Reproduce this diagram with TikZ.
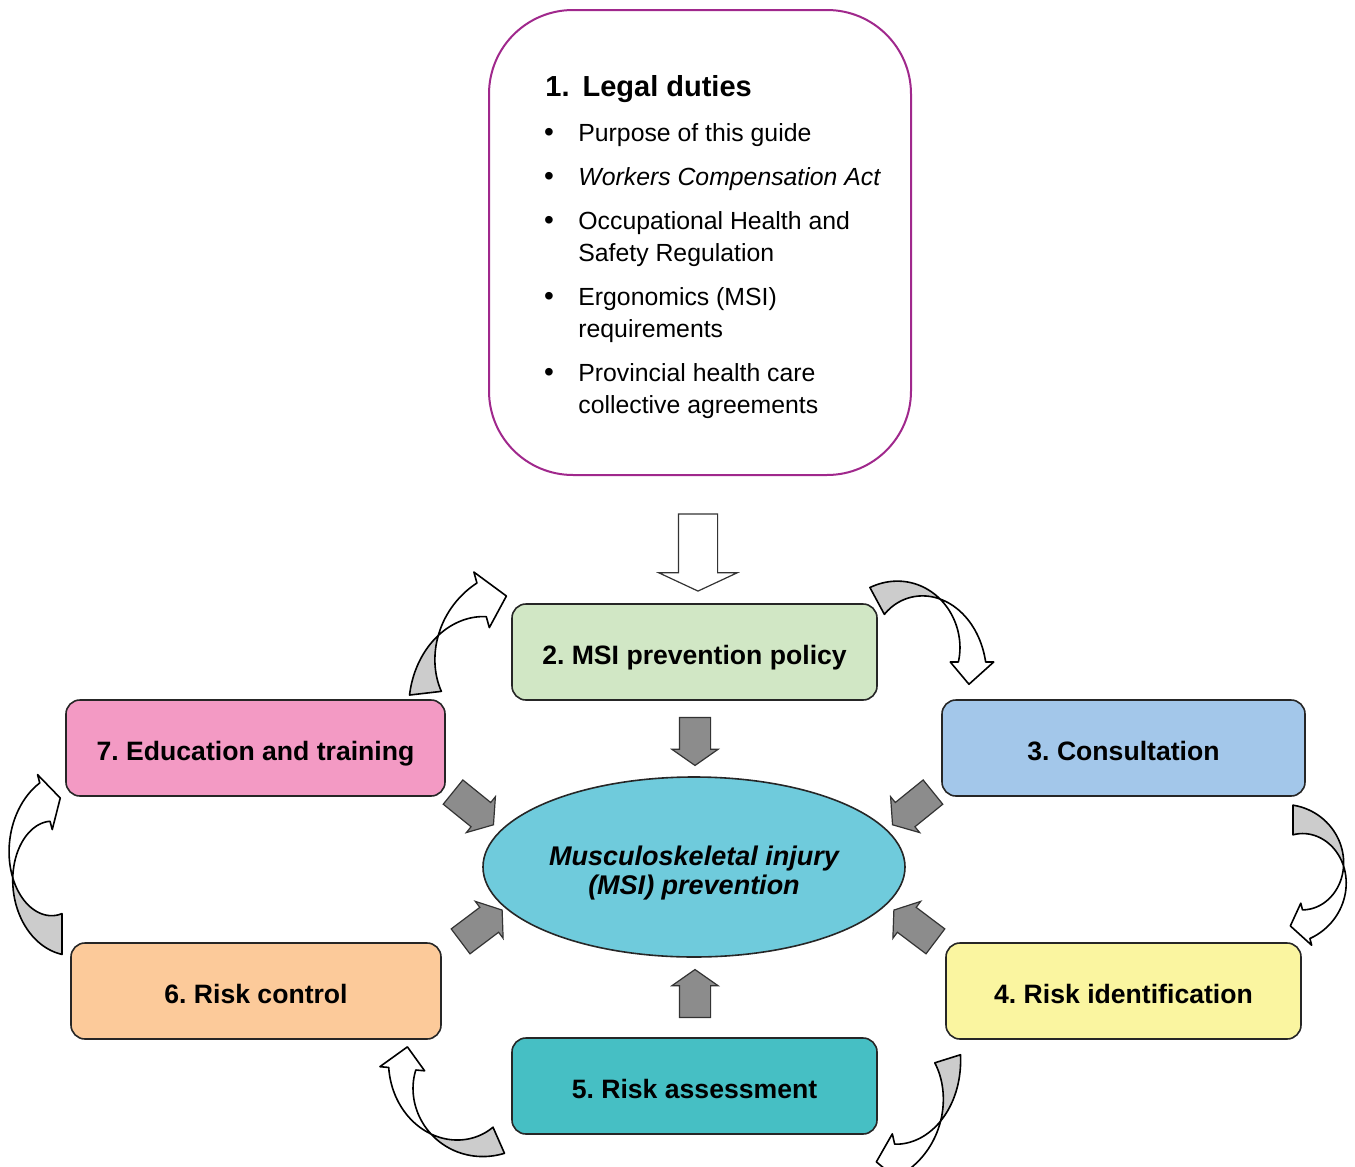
\documentclass[tikz,border=0pt]{standalone}
\usepackage{fontspec}
\setmainfont{Liberation Sans}
\usepackage{tikz}
\usetikzlibrary{shapes.geometric, shapes.arrows}
\frenchspacing

\definecolor{dutyborder}{HTML}{A0288C}
\definecolor{policygreen}{HTML}{D1E7C5}
\definecolor{consultblue}{HTML}{A3C7EA}
\definecolor{identyellow}{HTML}{FAF5A0}
\definecolor{assessteal}{HTML}{46BFC4}
\definecolor{controlpeach}{HTML}{FCCA9A}
\definecolor{trainpink}{HTML}{F39AC4}
\definecolor{centrecyan}{HTML}{6FCBDC}
\definecolor{feedgray}{HTML}{8C8C8C}
\definecolor{backgray}{HTML}{CCCCCC}

% twisted ribbon arrow round an ellipse:
% #1,#2 centre, #3,#4 radii, #5 start angle, #6 end angle, #7 half width
\newcommand{\twistarrow}[7]{%
  \pgfmathsetmacro\twmid{(#5+#6)/2}
  \pgfmathsetmacro\twtip{#6+18}
  % back side (tail), narrowing to the twist
  \filldraw[twistback]
    plot[domain=#5:\twmid, variable=\ang, samples=25]
      ({#1+#3*(1+#7*(1-2*(\ang-(#5))/(#6-(#5))))*cos(\ang)},
       {#2+#4*(1+#7*(1-2*(\ang-(#5))/(#6-(#5))))*sin(\ang)})
    -- plot[domain=\twmid:#5, variable=\ang, samples=25]
      ({#1+#3*(1-#7*(1-2*(\ang-(#5))/(#6-(#5))))*cos(\ang)},
       {#2+#4*(1-#7*(1-2*(\ang-(#5))/(#6-(#5))))*sin(\ang)})
    -- cycle;
  % front side with the head
  \filldraw[twistfront]
    plot[domain=\twmid:#6, variable=\ang, samples=25]
      ({#1+#3*(1+#7*(1-2*(\ang-(#5))/(#6-(#5))))*cos(\ang)},
       {#2+#4*(1+#7*(1-2*(\ang-(#5))/(#6-(#5))))*sin(\ang)})
    -- ({#1+#3*(1-#7-0.13)*cos(#6)},{#2+#4*(1-#7-0.13)*sin(#6)})
    -- ({#1+#3*cos(\twtip)},{#2+#4*sin(\twtip)})
    -- ({#1+#3*(1+#7+0.13)*cos(#6)},{#2+#4*(1+#7+0.13)*sin(#6)})
    -- plot[domain=#6:\twmid, variable=\ang, samples=25]
      ({#1+#3*(1-#7*(1-2*(\ang-(#5))/(#6-(#5))))*cos(\ang)},
       {#2+#4*(1-#7*(1-2*(\ang-(#5))/(#6-(#5))))*sin(\ang)})
    -- cycle;
}

\begin{document}
\begin{tikzpicture}[
    x=0.5pt, y=-0.5pt,
    stage/.style={rectangle, rounded corners=7pt, draw=black!85, line width=0.8pt,
      minimum height=48pt, inner sep=0pt, text height=12pt, text depth=0pt,
      font=\fontsize{13.3}{16}\selectfont\bfseries}, % the seven step boxes
    item/.style={anchor=base west, inner sep=0pt, font=\fontsize{12.4}{16}\selectfont},
    dot/.style={anchor=base, inner sep=0pt, font=\fontsize{14}{16}\selectfont},
    feed/.style={single arrow, draw=black!80, fill=feedgray, line width=0.6pt,
      inner xsep=0pt, inner ysep=7.5pt, single arrow head extend=3.75pt,
      single arrow tip angle=110}, % grey arrows into the centre
    twistback/.style={fill=backgray, draw=black, line width=0.8pt, line join=round},
    twistfront/.style={fill=white, draw=black, line width=0.8pt, line join=round}
    ]
    \useasboundingbox (0,0) rectangle (1355,1167);

    % legal duties panel
    \node (duties) [rectangle, rounded corners=42pt, draw=dutyborder, line width=1pt,
      minimum width=211pt, minimum height=232.5pt] at (700,242.5) {};
    \node (title) [anchor=base west, inner sep=0pt, font=\fontsize{14.5}{16}\selectfont\bfseries]
      at (545,96) {1.\hspace{6.5pt}Legal duties};
    \foreach \y in {141,185,229,305,381}
        \node [dot] at (549,\y) {\textbullet};
    \node (d1)  [item] at (578,141) {Purpose of this guide};
    \node (d2)  [item] at (578,185) {\itshape Workers Compensation Act};
    \node (d3)  [item] at (578,229) {Occupational Health and};
    \node (d3b) [item] at (578,261) {Safety Regulation};
    \node (d4)  [item] at (578,305) {Ergonomics (MSI)};
    \node (d4b) [item] at (578,337) {requirements};
    \node (d5)  [item] at (578,381) {Provincial health care};
    \node (d5b) [item] at (578,413) {collective agreements};

    % open arrow down to the policy
    \node (down) [single arrow, draw=black!80, fill=white, line width=0.6pt,
      inner xsep=0pt, inner ysep=9.5pt, single arrow head extend=9.75pt,
      single arrow tip angle=130, minimum height=38.5pt, rotate=-90] at (698,548) {};

    % step boxes
    \node (policy)  [stage, fill=policygreen,  minimum width=182.5pt] at (694.5,652)  {2. MSI prevention policy};
    \node (consult) [stage, fill=consultblue,  minimum width=181.5pt] at (1123.5,748) {3. Consultation};
    \node (ident)   [stage, fill=identyellow,  minimum width=177.5pt] at (1123.5,991) {4. Risk identification};
    \node (assess)  [stage, fill=assessteal,   minimum width=182.5pt] at (694.5,1086) {5. Risk assessment};
    \node (control) [stage, fill=controlpeach, minimum width=185pt]   at (256,991)    {6. Risk control};
    \node (train)   [stage, fill=trainpink,    minimum width=189.5pt] at (255.5,748)  {7. Education and training};

    % centre
    \node (msi) [ellipse, draw=black!85, line width=0.8pt, fill=centrecyan,
      minimum width=211pt, minimum height=90pt] at (694,867) {};
    \node (msilabel) [align=center, inner sep=0pt,
      font=\fontsize{13.5}{14.5}\selectfont\bfseries\itshape] at (694,873)
      {Musculoskeletal injury\\(MSI) prevention};

    % grey arrows pointing in
    \node (fpolicy)  [feed, minimum height=24pt, rotate=-90]  at (695,736) {};
    \node (fassess)  [feed, minimum height=24pt, rotate=90]   at (695,999) {};
    \node (ftrain)   [feed, minimum height=26pt, rotate=-39]  at (469,805) {};
    \node (fconsult) [feed, minimum height=26pt, rotate=-141] at (917,805) {};
    \node (fcontrol) [feed, minimum height=26pt, rotate=37]   at (477,929) {};
    \node (fident)   [feed, minimum height=26pt, rotate=143]  at (919,929) {};

    % cycle arrows between the steps
    \twistarrow{505}{684}{80}{88}{174}{253}{0.2}
    \twistarrow{910}{662}{62}{72}{-122}{0}{0.22}
    \twistarrow{1293}{873}{51}{53}{-90}{75}{0.28}
    \twistarrow{880}{1080}{70}{82}{-15}{75}{0.19}
    \twistarrow{470}{1075}{68}{72}{65}{185}{0.2}
    \twistarrow{62}{866}{50}{68}{90}{250}{0.3}

\end{tikzpicture}
\end{document}
